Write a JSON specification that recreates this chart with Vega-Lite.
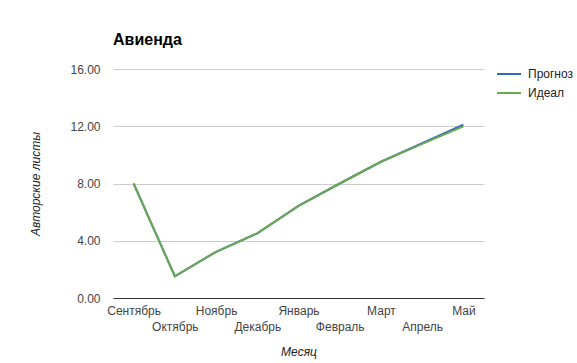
{
  "$schema": "https://vega.github.io/schema/vega-lite/v6.json",
  "width": 371,
  "height": 229,
  "autosize": {"type": "none"},
  "padding": {"left": 113, "top": 69, "right": 93, "bottom": 65},
  "background": "white",
  "title": {
    "text": "Авиенда",
    "anchor": "start",
    "font": "Liberation Sans",
    "fontSize": 16,
    "fontWeight": "bold",
    "color": "#000000",
    "offset": 13,
    "frame": "group"
  },
  "config": {
    "view": {"stroke": null},
    "font": "Liberation Sans"
  },
  "data": {
    "values": [
      {"month": "Сентябрь", "series": "Прогноз", "value": 8.0},
      {"month": "Октябрь", "series": "Прогноз", "value": 1.52},
      {"month": "Ноябрь", "series": "Прогноз", "value": 3.23},
      {"month": "Декабрь", "series": "Прогноз", "value": 4.52},
      {"month": "Январь", "series": "Прогноз", "value": 6.43},
      {"month": "Февраль", "series": "Прогноз", "value": 8.0},
      {"month": "Март", "series": "Прогноз", "value": 9.52},
      {"month": "Апрель", "series": "Прогноз", "value": 10.81},
      {"month": "Май", "series": "Прогноз", "value": 12.11},
      {"month": "Сентябрь", "series": "Идеал", "value": 8.0},
      {"month": "Октябрь", "series": "Идеал", "value": 1.52},
      {"month": "Ноябрь", "series": "Идеал", "value": 3.23},
      {"month": "Декабрь", "series": "Идеал", "value": 4.52},
      {"month": "Январь", "series": "Идеал", "value": 6.43},
      {"month": "Февраль", "series": "Идеал", "value": 8.0},
      {"month": "Март", "series": "Идеал", "value": 9.52},
      {"month": "Апрель", "series": "Идеал", "value": 10.77},
      {"month": "Май", "series": "Идеал", "value": 12.0}
    ]
  },
  "mark": {"type": "line", "strokeWidth": 2},
  "encoding": {
    "x": {
      "field": "month",
      "type": "ordinal",
      "sort": ["Сентябрь", "Октябрь", "Ноябрь", "Декабрь", "Январь", "Февраль", "Март", "Апрель", "Май"],
      "scale": {"type": "point", "padding": 0.5},
      "axis": {
        "title": "Месяц",
        "titleFont": "Liberation Sans",
        "titleFontSize": 12,
        "titleFontStyle": "italic",
        "titleFontWeight": "normal",
        "titleColor": "#222222",
        "titleX": 185.5,
        "titleY": 53,
        "titleAlign": "center",
        "titleBaseline": "middle",
        "labelAngle": 0,
        "labelFont": "Liberation Sans",
        "labelFontSize": 12,
        "labelColor": "#444444",
        "labelBaseline": "top",
        "labelPadding": {
          "condition": {"test": "indexof(['Октябрь','Декабрь','Февраль','Апрель'], datum.value) >= 0", "value": 23},
          "value": 7
        },
        "labelOverlap": false,
        "ticks": false,
        "domainColor": "#333333",
        "domainWidth": 1,
        "grid": false
      }
    },
    "y": {
      "field": "value",
      "type": "quantitative",
      "scale": {"domain": [0, 16]},
      "axis": {
        "values": [0, 4, 8, 12, 16],
        "format": ".2f",
        "title": "Авторские листы",
        "titleFont": "Liberation Sans",
        "titleFontSize": 12,
        "titleFontStyle": "italic",
        "titleFontWeight": "normal",
        "titleColor": "#222222",
        "titleAngle": -90,
        "titleX": -78,
        "titleY": 114.5,
        "titleAlign": "center",
        "titleBaseline": "middle",
        "labelFont": "Liberation Sans",
        "labelFontSize": 12,
        "labelColor": "#444444",
        "labelPadding": 13,
        "ticks": false,
        "domain": false,
        "grid": true,
        "gridColor": "#cccccc",
        "gridWidth": 1
      }
    },
    "color": {
      "field": "series",
      "type": "nominal",
      "sort": ["Прогноз", "Идеал"],
      "scale": {"domain": ["Прогноз", "Идеал"], "range": ["#3366cc", "#6aa84f"]},
      "legend": {
        "title": null,
        "orient": "none",
        "legendX": 383,
        "legendY": -8,
        "symbolType": "stroke",
        "symbolSize": 576,
        "symbolStrokeWidth": 2,
        "labelFont": "Liberation Sans",
        "labelFontSize": 12,
        "labelColor": "#222222",
        "labelOffset": 6,
        "rowPadding": -4
      }
    },
    "order": {"field": "series", "sort": "descending"}
  }
}
